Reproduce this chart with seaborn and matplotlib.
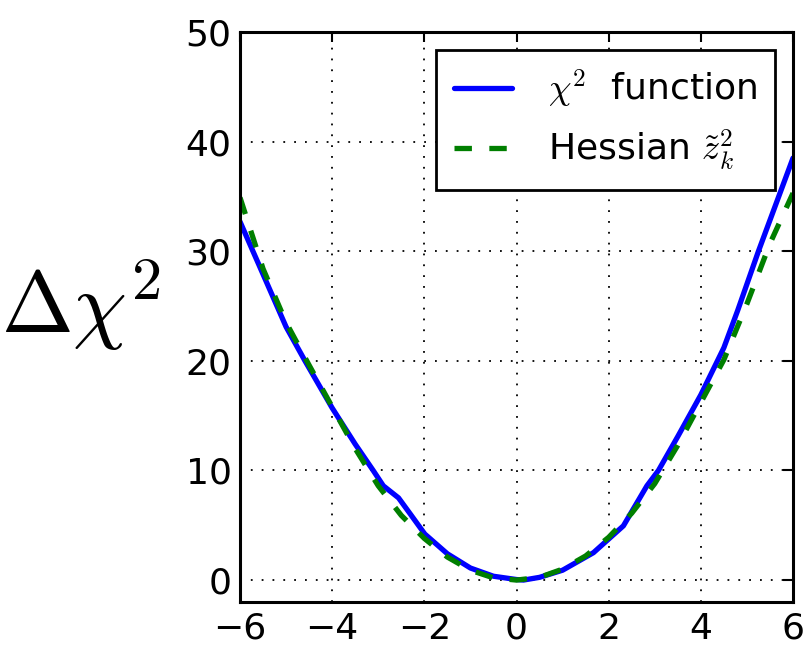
import matplotlib
matplotlib.use("Agg")
import matplotlib.pyplot as plt
import seaborn as sns
import pandas as pd

# data
chi2_x = [-6.0, -5.0, -4.59, -4.0, -3.5, -3.11, -2.89, -2.56, -2.3, -1.99,
          -1.5, -1.0, -0.5, 0.0, 0.15, 0.5, 1.0, 1.67, 2.32, 2.83, 3.08, 3.5, 4.0,
          4.5, 4.8, 5.25, 6.0]
chi2_y = [32.7, 23.1, 20.0, 15.7, 12.4, 10.0, 8.6, 7.5, 6.0, 4.2,
          2.4, 1.1, 0.35, 0.05, 0.0, 0.25, 0.9, 2.5, 4.95, 8.6, 10.0, 13.1, 16.9,
          21.2, 24.6, 30.0, 38.5]

hess_x = [-6.0, -5.5, -5.0, -4.5, -4.0, -3.5, -3.0, -2.5, -2.0, -1.5, -1.0, -0.5, 0.0,
          0.5, 1.0, 1.5, 2.0, 2.5, 3.0, 3.5, 4.0, 4.5, 5.0, 5.5, 6.0]
hess_y = [34.9, 28.4, 23.5, 19.6, 15.8, 12.0, 8.6, 5.9, 3.8, 2.1, 0.9, 0.2, 0.0,
          0.25, 1.0, 2.2, 3.9, 6.1, 8.8, 12.3, 16.2, 20.1, 25.2, 30.7, 35.3]

xticks = [-6, -4, -2, 0, 2, 4, 6]
yticks = [0, 10, 20, 30, 40, 50]

sns.set_style("white")
plt.rcParams["font.family"] = ["DejaVu Sans"]
plt.rcParams["mathtext.fontset"] = "cm"
plt.rcParams["text.color"] = "black"
plt.rcParams["axes.labelcolor"] = "black"

fig = plt.figure(figsize=(8.09, 6.46), dpi=100)
ax = fig.add_axes([240/809, 1-602/646, (793-240)/809, (602-32)/646])

df1 = pd.DataFrame({"x": chi2_x, "y": chi2_y})
df2 = pd.DataFrame({"x": hess_x, "y": hess_y})
sns.lineplot(data=df1, x="x", y="y", ax=ax, color="#0000ff", lw=3.8,
             label=r"$\chi^2$  function", sort=False)
sns.lineplot(data=df2, x="x", y="y", ax=ax, color="#007f00", lw=3.8,
             label=r"Hessian $\tilde{z}_k^2$", sort=False)
ax.lines[1].set_dashes((3.3, 3.3))

ax.set_xlim(-6, 6)
ax.set_ylim(-2, 50)
ax.set_xticks(xticks)
ax.set_yticks(yticks)
ax.set_xticklabels([f"{t}".replace("-", "\u2212") for t in xticks])
ax.set_yticklabels([str(t) for t in yticks])
ax.grid(True, color="black", linestyle=(0, (1, 5)), linewidth=1.3)
for s in ax.spines.values():
    s.set_visible(True)
    s.set_color("black")
    s.set_linewidth(2.2)
ax.tick_params(axis="both", which="major", direction="in", length=7, width=1.5,
               labelsize=26, top=True, right=True, color="black", labelcolor="black")
ax.tick_params(axis="x", pad=7)
ax.tick_params(axis="y", pad=6)
ax.set_xlabel("")
ax.set_ylabel(r"$\Delta\chi^2$", fontsize=62, rotation=0, ha="right", va="center",
              color="black")
ax.yaxis.set_label_coords(-0.143, 0.52)

leg = ax.legend(loc="upper right", fontsize=26, handlelength=1.6, handletextpad=1.0,
                fancybox=False, framealpha=1, edgecolor="black", borderpad=0.5,
                labelspacing=0.5)
leg.get_frame().set_linewidth(2)
leg.get_lines()[1].set_dashes((3.3, 3.3))
for t in leg.get_texts():
    t.set_color("black")

fig.savefig("out.png", dpi=100)
